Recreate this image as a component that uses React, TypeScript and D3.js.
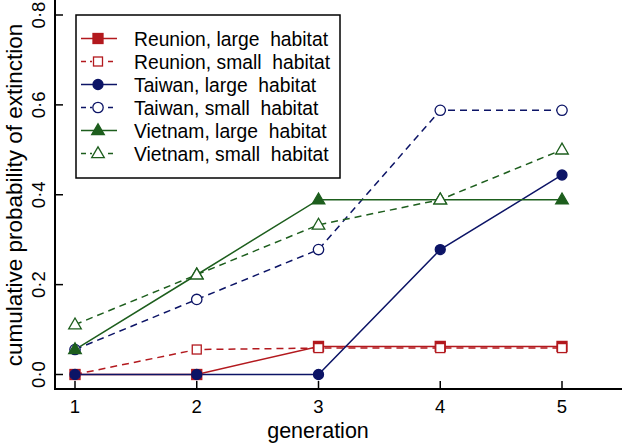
import React from "react";
import * as d3 from "d3";

const generations = [1, 2, 3, 4, 5];
const reunionLarge = [0, 0, 0.0625, 0.0625, 0.0625];
const reunionSmall = [0, 0.0556, 0.0588, 0.0588, 0.0588];
const taiwanLarge = [0, 0, 0, 0.278, 0.444];
const taiwanSmall = [0.0556, 0.167, 0.278, 0.588, 0.588];
const vietnamLarge = [0.0556, 0.222, 0.389, 0.389, 0.389];
const vietnamSmall = [0.111, 0.222, 0.333, 0.389, 0.5];
const yTicks = [0, 0.2, 0.4, 0.6, 0.8];
const yTickLabels = ["0·0", "0·2", "0·4", "0·6", "0·8"];

const RED = "#b3191e";
const NAVY = "#0c1466";
const GREEN = "#1d5e1d";

type Shape = "square" | "circle" | "triangle";
const series = [
  { name: "Reunion, large  habitat", values: reunionLarge, color: RED, dashed: false, filled: true, shape: "square" as Shape },
  { name: "Reunion, small  habitat", values: reunionSmall, color: RED, dashed: true, filled: false, shape: "square" as Shape },
  { name: "Taiwan, large  habitat", values: taiwanLarge, color: NAVY, dashed: false, filled: true, shape: "circle" as Shape },
  { name: "Taiwan, small  habitat", values: taiwanSmall, color: NAVY, dashed: true, filled: false, shape: "circle" as Shape },
  { name: "Vietnam, large  habitat", values: vietnamLarge, color: GREEN, dashed: false, filled: true, shape: "triangle" as Shape },
  { name: "Vietnam, small  habitat", values: vietnamSmall, color: GREEN, dashed: true, filled: false, shape: "triangle" as Shape },
];

const W = 622;
const H = 446;
const FONT = "Liberation Sans, Arial, Helvetica, sans-serif";

function Marker({ x, y, shape, color, filled }: { x: number; y: number; shape: Shape; color: string; filled: boolean }) {
  const fill = filled ? color : "white";
  const sw = 1.3;
  if (shape === "square") {
    const s = filled ? 10 : 9;
    return <rect x={x - s / 2} y={y - s / 2} width={s} height={s} fill={fill} stroke={color} strokeWidth={sw} />;
  }
  if (shape === "circle") {
    return <circle cx={x} cy={y} r={filled ? 5 : 5.2} fill={fill} stroke={color} strokeWidth={sw} />;
  }
  const r = 7;
  const pts = [
    [x, y - r * 0.95],
    [x - r * 0.9, y + r * 0.6],
    [x + r * 0.9, y + r * 0.6],
  ];
  return <polygon points={pts.map((p) => p.join(",")).join(" ")} fill={fill} stroke={color} strokeWidth={sw} />;
}

export default function App() {
  const x = d3.scaleLinear().domain([1, 5]).range([75, 562]);
  const y = d3.scaleLinear().domain([0, 0.8]).range([374.5, 15]);
  const axisX = 55;
  const axisY = 389;

  const line = d3
    .line<number>()
    .x((_, i) => x(generations[i]))
    .y((d) => y(d));

  const legendX = 76;
  const legendY = 15;
  const legendW = 264;
  const legendH = 163;
  const rowY0 = 38.5;
  const rowStep = 23;

  return (
    <svg width={W} height={H} style={{ position: "absolute", left: 0, top: 0, background: "white" }} fontFamily={FONT}>
      {/* axes */}
      <line x1={axisX} y1={0} x2={axisX} y2={axisY} stroke="black" strokeWidth={2} />
      <line x1={axisX - 1} y1={axisY} x2={W} y2={axisY} stroke="black" strokeWidth={2} />
      {yTicks.map((t, i) => (
        <g key={"yt" + i}>
          <line x1={axisX} x2={axisX + 8} y1={y(t)} y2={y(t)} stroke="black" strokeWidth={1.5} />
          <text
            transform={`translate(${axisX - 10},${y(t)}) rotate(-90)`}
            textAnchor="middle"
            fontSize={18.5}
            fill="black"
          >
            {yTickLabels[i]}
          </text>
        </g>
      ))}
      {generations.map((g) => (
        <g key={"xt" + g}>
          <line x1={x(g)} x2={x(g)} y1={axisY} y2={axisY - 8} stroke="black" strokeWidth={1.5} />
          <text x={x(g)} y={412.5} textAnchor="middle" fontSize={18.5} fill="black">
            {g}
          </text>
        </g>
      ))}
      <text x={318} y={438} textAnchor="middle" fontSize={21.5} fill="black">
        generation
      </text>
      <text
        transform={`translate(22,${195}) rotate(-90)`}
        textAnchor="middle"
        fontSize={22.5}
        fill="black"
      >
        cumulative probability of extinction
      </text>

      {/* series */}
      {series.map((s, si) => (
        <g key={"s" + si}>
          <path
            d={line(s.values) || ""}
            fill="none"
            stroke={s.color}
            strokeWidth={1.5}
            strokeDasharray={s.dashed ? "7,5" : undefined}
          />
        </g>
      ))}
      {series.map((s, si) => (
        <g key={"m" + si}>
          {s.values.map((v, i) => (
            <Marker key={i} x={x(generations[i])} y={y(v)} shape={s.shape} color={s.color} filled={s.filled} />
          ))}
        </g>
      ))}

      {/* legend */}
      <rect x={legendX} y={legendY} width={legendW} height={legendH} fill="white" stroke="black" strokeWidth={1.5} />
      {series.map((s, i) => {
        const ry = rowY0 + i * rowStep;
        return (
          <g key={"l" + i}>
            <line
              x1={81}
              x2={117}
              y1={ry}
              y2={ry}
              stroke={s.color}
              strokeWidth={1.5}
              strokeDasharray={s.dashed ? "5,4" : undefined}
            />
            {s.dashed && <rect x={92} y={ry - 6} width={12} height={12} fill="white" />}
            <Marker x={98} y={ry} shape={s.shape} color={s.color} filled={s.filled} />
            <text x={134} y={ry + 7} fontSize={19.3} fill="black" style={{ whiteSpace: "pre" }}>
              {s.name}
            </text>
          </g>
        );
      })}
    </svg>
  );
}
